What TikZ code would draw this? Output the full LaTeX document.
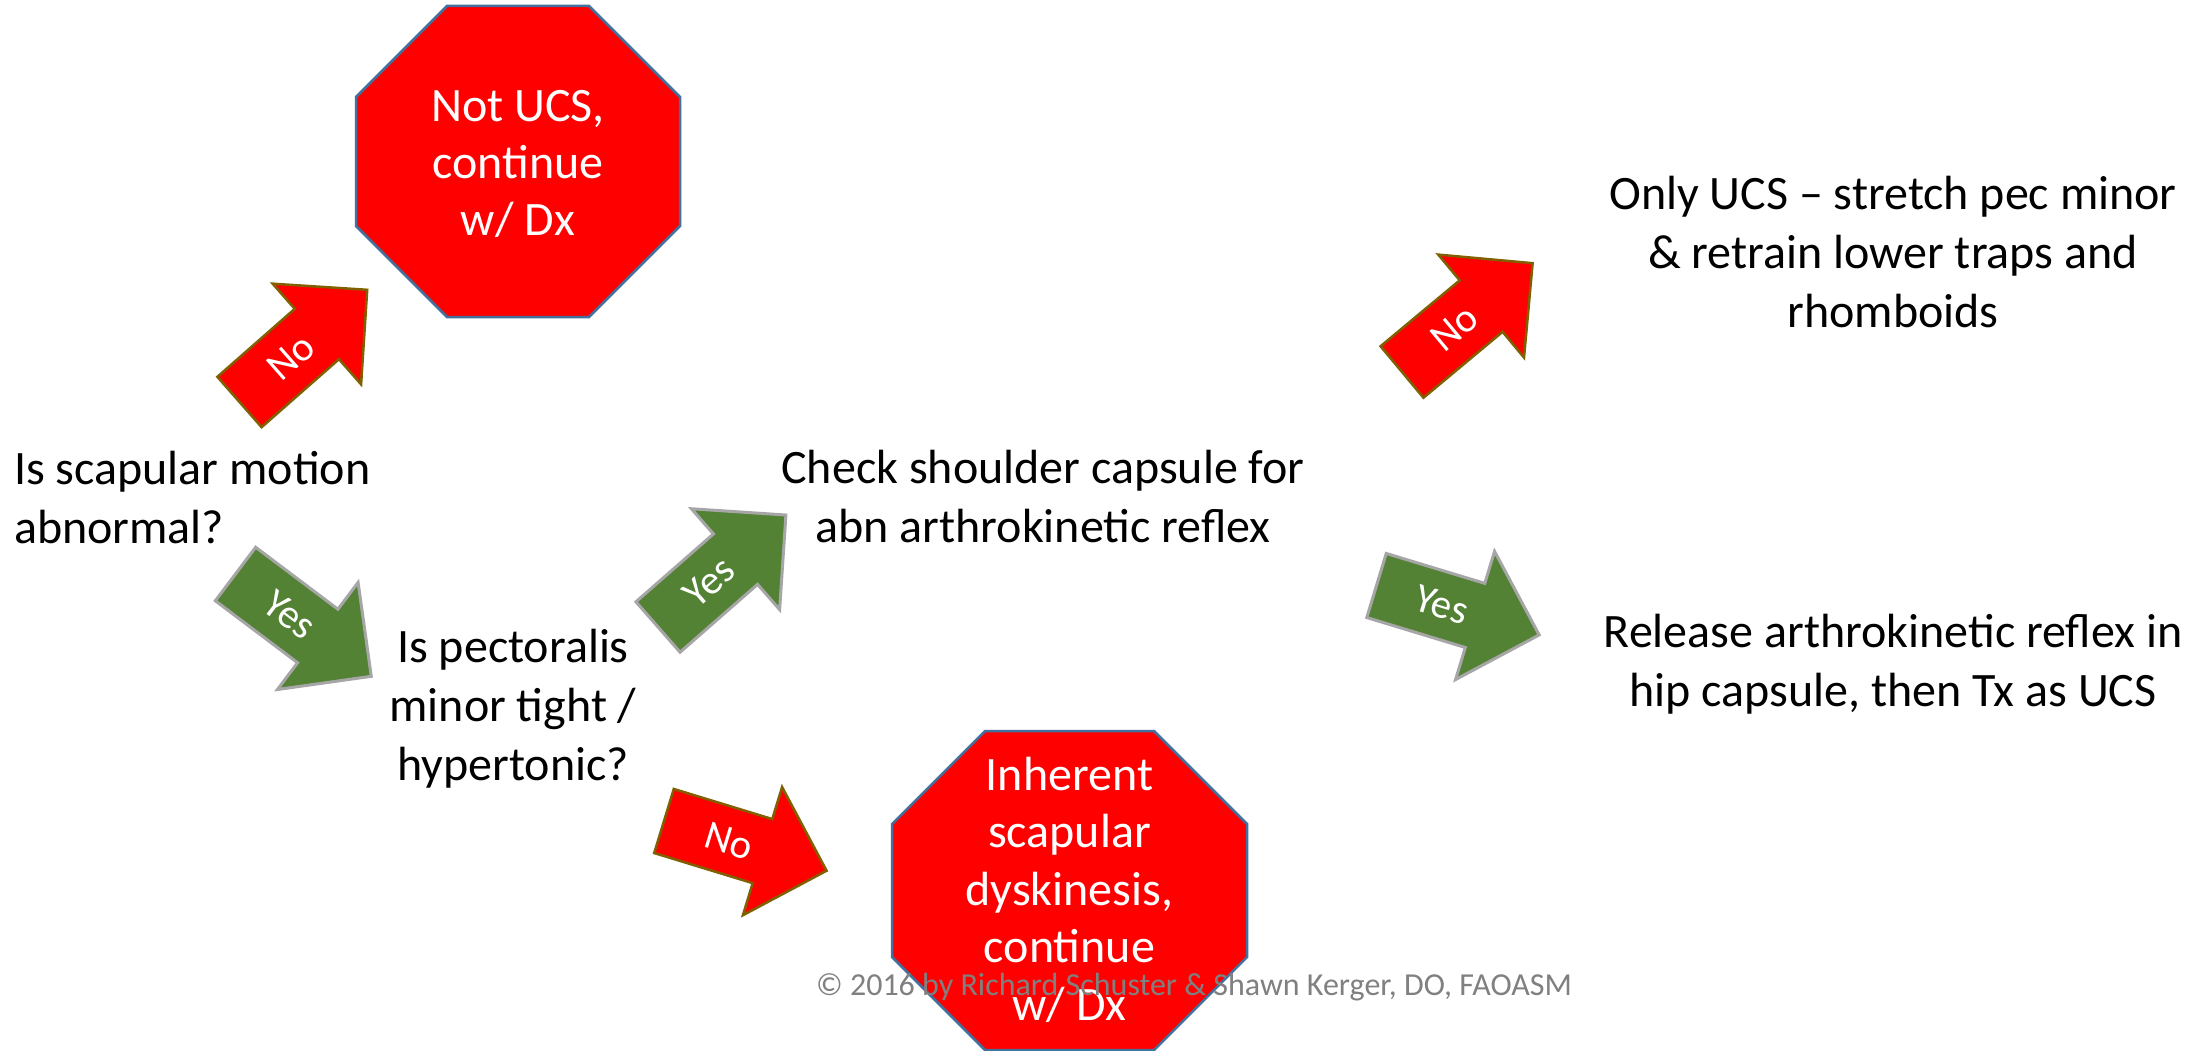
\documentclass[tikz,border=0pt]{standalone}
\usepackage{fontspec}
\setmainfont{Carlito}
\definecolor{stopred}{RGB}{255,0,0}
\definecolor{rededge}{RGB}{128,96,0}
\definecolor{yesgreen}{RGB}{84,130,53}
\definecolor{greenedge}{RGB}{166,166,166}
\definecolor{octedge}{RGB}{65,113,156}
\definecolor{copygray}{RGB}{128,128,128}
\tikzset{
  maintext/.style={font=\fontsize{48}{58.6}\selectfont, inner sep=0pt, text=black},
  octtext/.style={font=\fontsize{48}{57.5}\selectfont, inner sep=0pt, text=white, align=center, anchor=base},
  octshape/.style={fill=stopred, draw=octedge, line width=2.5pt, line join=miter},
  noarrow/.style={fill=stopred, draw=rededge, line width=2.5pt, line join=miter},
  yesarrow/.style={fill=yesgreen, draw=greenedge, line width=3pt, line join=miter},
  arrowlabel/.style={font=\fontsize{41}{48}\selectfont, text=white, inner sep=0pt},
  copyright/.style={font=\fontsize{32}{38}\selectfont, text=copygray, inner sep=0pt, anchor=base}
}
% #1 name, #2 tail x, #3 tail y, #4 angle, #5 style, #6 label
\newcommand\blockarrow[6]{%
  \begin{scope}[shift={(#2,#3)}, rotate=#4]
    \draw[#5] (0,-33.5) -- (103,-33.5) -- (103,-67) -- (170,0) -- (103,67) -- (103,33.5) -- (0,33.5) -- cycle;
    \node[arrowlabel, rotate=#4] (#1) at (68,0) {#6};
  \end{scope}}
\begin{document}
\begin{tikzpicture}[x=1pt, y=-1pt]
\useasboundingbox[fill=white] (0,0) rectangle (2187,1051);

% octagon 1
\draw[octshape] (447,6) -- (589,6) -- (680,97) -- (680,226) -- (589,317) -- (447,317) -- (356,226) -- (356,97) -- cycle;
\node[octtext] (notucs) at (518,236) {Not UCS,\\continue\\w/ Dx};

% octagon 2
\draw[octshape] (985,731) -- (1154,731) -- (1247,824) -- (1247,957) -- (1154,1050) -- (985,1050) -- (892,957) -- (892,824) -- cycle;
\node[octtext] (inherent) at (1069.5,1020) {Inherent\\scapular\\dyskinesis,\\continue\\w/ Dx};

% texts (anchor base = baseline of the last line)
\node[maintext, align=left, anchor=base west] (scap) at (14,543) {Is scapular motion\\abnormal?};
\node[maintext, align=center, anchor=base] (check) at (1043,542) {Check shoulder capsule for\\abn arthrokinetic reflex};
\node[maintext, align=center, anchor=base] (pec) at (513,780) {Is pectoralis\\minor tight /\\hypertonic?};
\node[maintext, align=center, anchor=base] (only) at (1893,327) {Only UCS – stretch pec minor\\\& retrain lower traps and\\rhomboids};
\node[maintext, align=center, anchor=base] (release) at (1893,706) {Release arthrokinetic reflex in\\hip capsule, then Tx as UCS};

% arrows
\blockarrow{no1}{239.5}{402}{41.3}{noarrow}{No}
\blockarrow{yes1}{235.5}{574}{-37}{yesarrow}{Yes}
\blockarrow{yes2}{658}{627}{41.2}{yesarrow}{Yes}
\blockarrow{no2}{664}{821}{-17}{noarrow}{No}
\blockarrow{no3}{1402}{372}{39.8}{noarrow}{No}
\blockarrow{yes3}{1376.5}{585.5}{-16.9}{yesarrow}{Yes}

\node[copyright] (copy) at (1194,995) {© 2016 by Richard Schuster \& Shawn Kerger, DO, FAOASM};
\end{tikzpicture}
\end{document}
